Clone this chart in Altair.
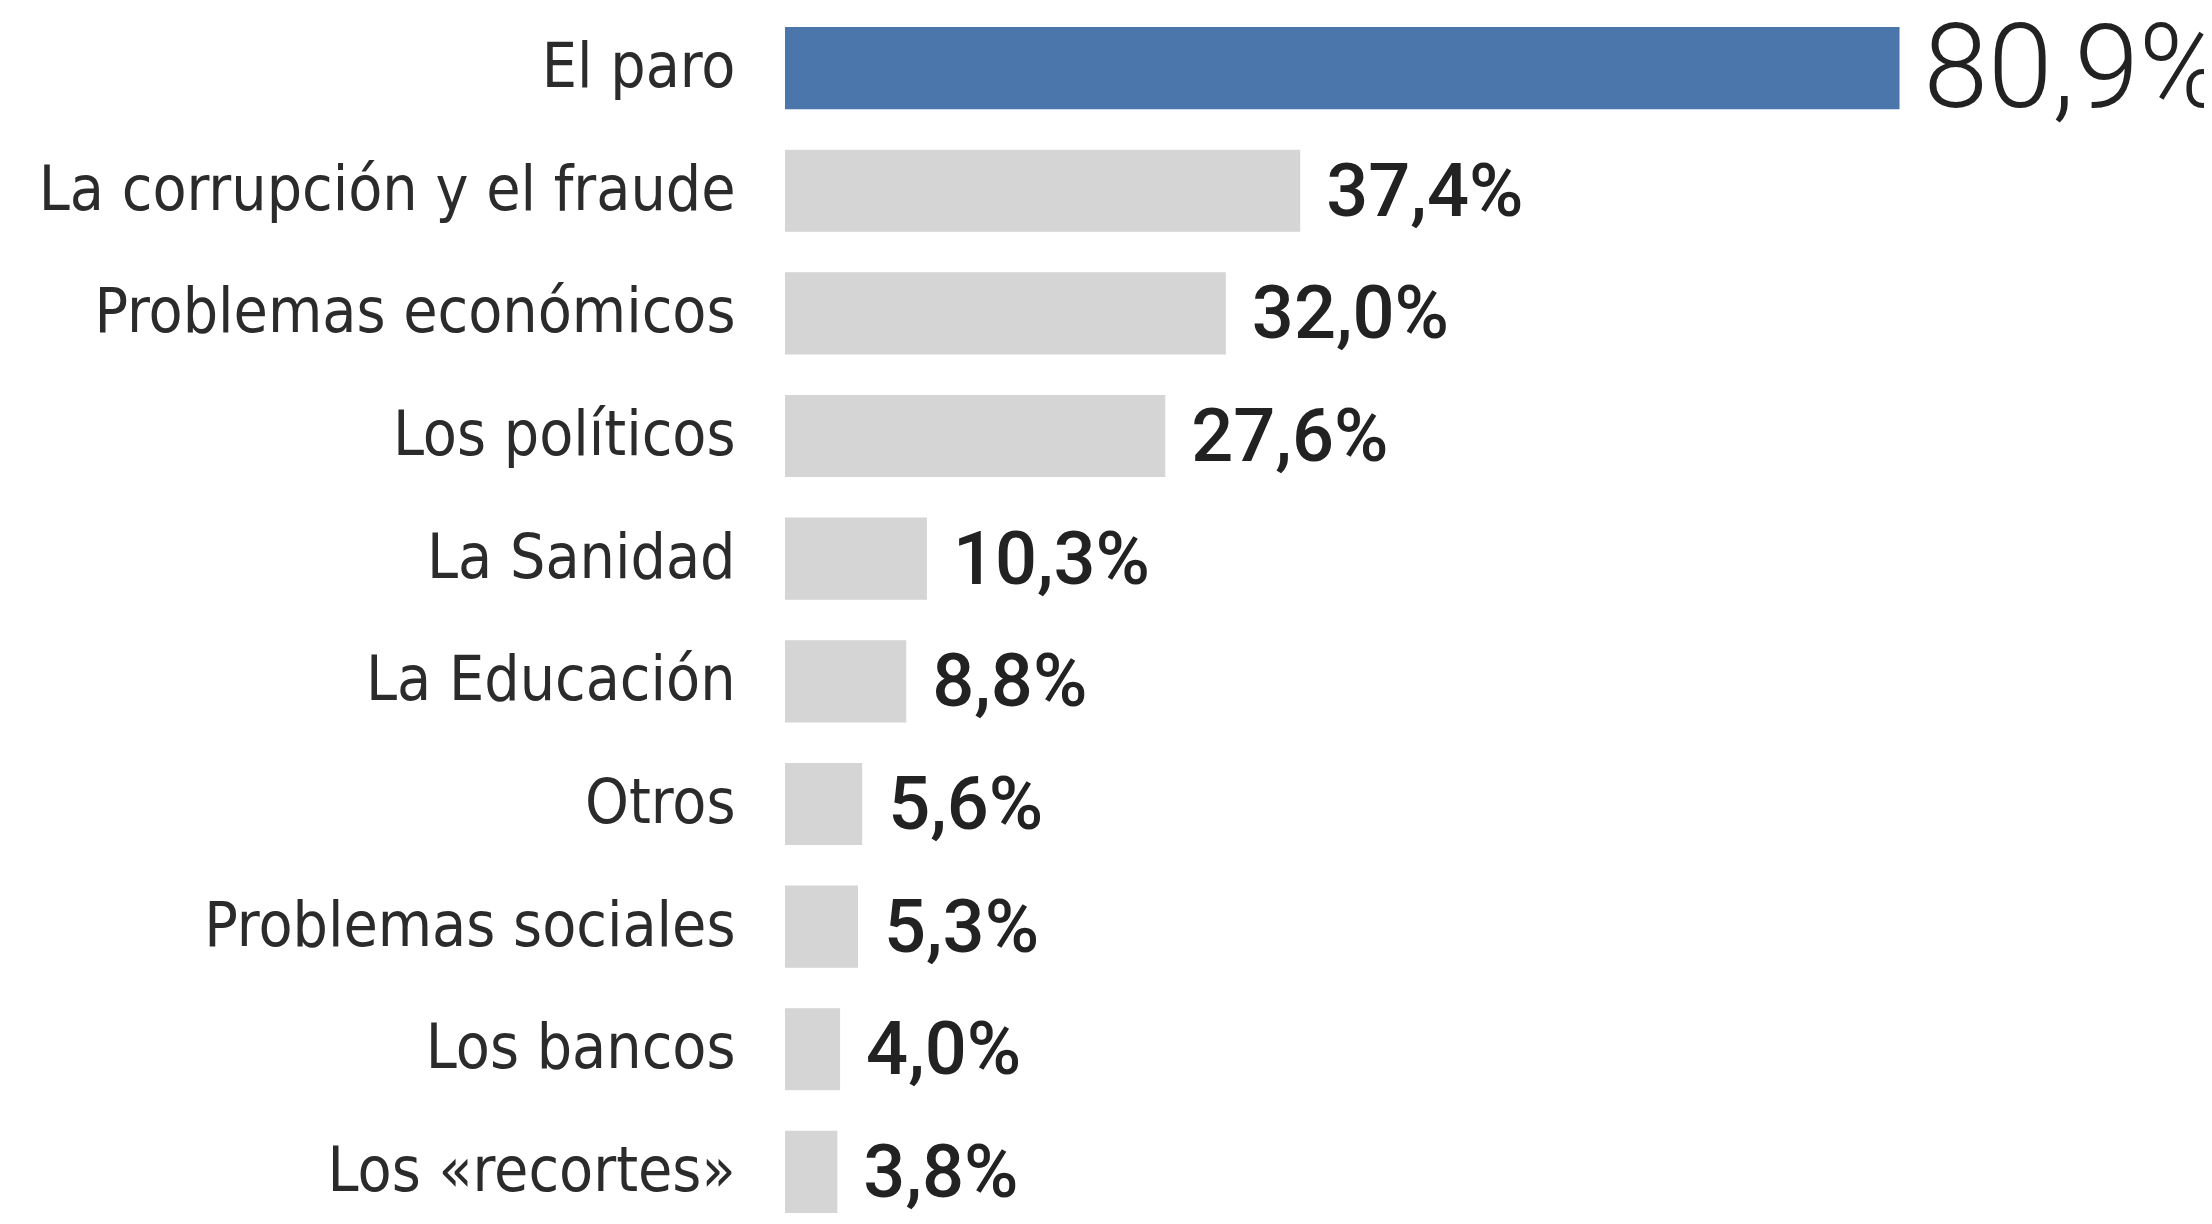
import altair as alt
import pandas as pd

categories = [
    "El paro",
    "La corrupción y el fraude",
    "Problemas económicos",
    "Los políticos",
    "La Sanidad",
    "La Educación",
    "Otros",
    "Problemas sociales",
    "Los bancos",
    "Los «recortes»",
]
values = [80.9, 37.4, 32.0, 27.6, 10.3, 8.8, 5.6, 5.3, 4.0, 3.8]
labels = ["80,9%", "37,4%", "32,0%", "27,6%", "10,3%", "8,8%", "5,6%", "5,3%", "4,0%", "3,8%"]
highlight = [True] + [False] * 9

df = pd.DataFrame({"cat": categories, "value": values, "label": labels, "hl": highlight})

y_enc = alt.Y(
    "cat:N",
    sort=categories,
    scale=alt.Scale(paddingInner=0.33, paddingOuter=0),
    axis=alt.Axis(
        title=None, domain=False, ticks=False, grid=False,
        labelFont="DejaVu Sans Condensed", labelFontSize=62, labelColor="#2b2b2b",
        labelPadding=50, labelLimit=1000,
    ),
)
x_enc = alt.X("value:Q", scale=alt.Scale(domain=[0, 103], nice=False, zero=True), axis=None)

bars = alt.Chart(df).mark_bar().encode(
    y=y_enc,
    x=x_enc,
    color=alt.Color("hl:N", scale=alt.Scale(domain=[True, False], range=["#4a76ab", "#d5d5d5"]), legend=None),
)

small = alt.Chart(df).transform_filter("!datum.hl").mark_text(
    align="left", baseline="middle", dx=26, dy=3, font="Roboto", fontWeight=500, fontSize=74, color="#222222"
).encode(y=alt.Y("cat:N", sort=categories), x="value:Q", text="label:N")

big = alt.Chart(df).transform_filter("datum.hl").mark_text(
    align="left", baseline="middle", dx=24, dy=4, font="Roboto", fontWeight=300, fontSize=116, color="#222222"
).encode(y=alt.Y("cat:N", sort=categories), x="value:Q", text="label:N")

chart = alt.layer(bars, small, big).properties(
    width=1419,
    height=1186,
    padding={"left": 777, "top": 19, "right": 0, "bottom": 3},
    autosize=alt.AutoSizeParams(type="none"),
    background="white",
).configure_view(stroke=None)

chart.save("out.html", embed_options={"renderer": "svg", "actions": False})
